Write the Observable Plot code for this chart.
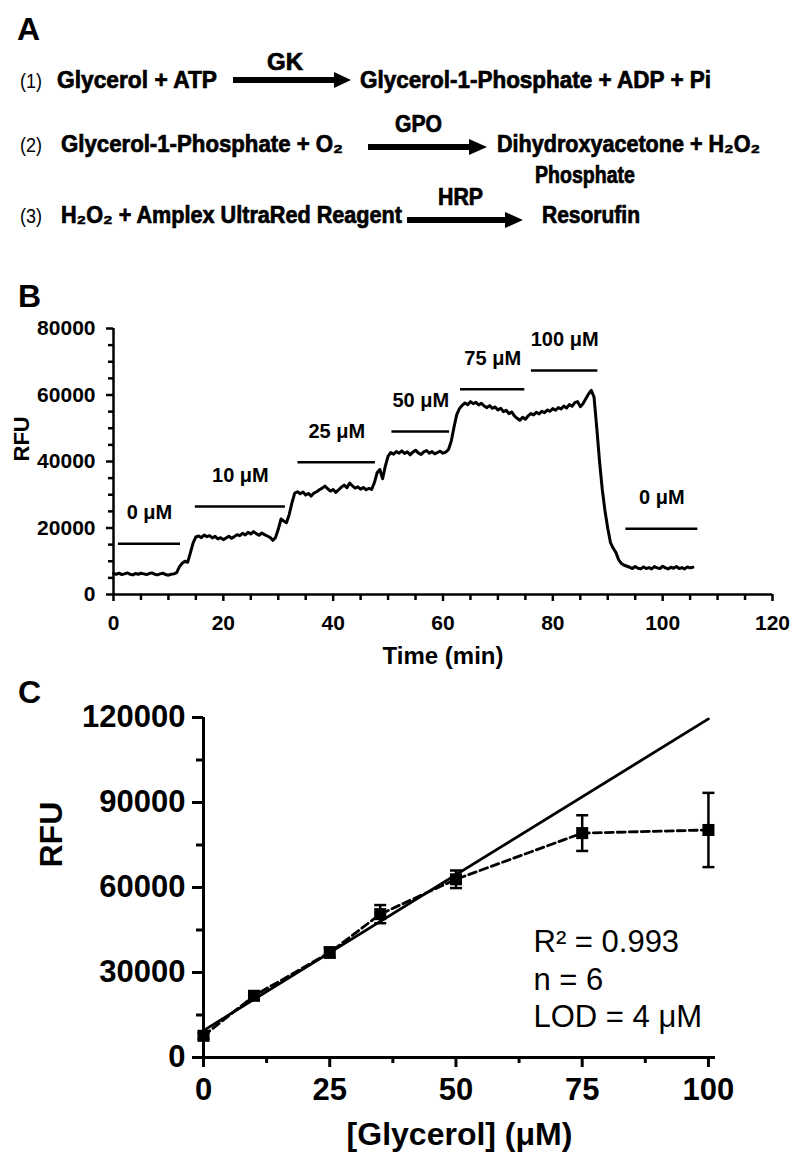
<!DOCTYPE html>
<html><head><meta charset="utf-8">
<script src="https://cdn.jsdelivr.net/npm/d3@7"></script>
<script src="https://cdn.jsdelivr.net/npm/@observablehq/plot@0.6"></script>
<style>
body{margin:0;background:#fff;}
#wrap{position:relative;width:800px;height:1172px;font-family:"Liberation Sans",Arial,sans-serif;}
#overlay{position:absolute;left:0;top:0;z-index:2;pointer-events:none;}
#plotB{position:absolute;left:0;top:300px;}
#plotC{position:absolute;left:0;top:690px;}
</style></head>
<body><div id="wrap">
<svg id="overlay" width="800" height="1172" font-family="Liberation Sans, Arial, sans-serif" font-weight="bold" font-size="23" fill="#000">
  <text x="17" y="40" font-size="32">A</text>
  <text x="18" y="307" font-size="32">B</text>
  <text x="18" y="703" font-size="32">C</text>
  <g font-weight="normal" font-size="20">
    <text x="20" y="88" textLength="22" lengthAdjust="spacingAndGlyphs">(1)</text>
    <text x="20" y="152" textLength="22" lengthAdjust="spacingAndGlyphs">(2)</text>
    <text x="20" y="223" textLength="22" lengthAdjust="spacingAndGlyphs">(3)</text>
  </g>
  <g stroke="#000" stroke-width="0.7">
    <!-- row 1 -->
    <text x="57" y="88" textLength="160" lengthAdjust="spacingAndGlyphs">Glycerol + ATP</text>
    <text x="267" y="70" textLength="36" lengthAdjust="spacingAndGlyphs">GK</text>
    <text x="360" y="88" textLength="351" lengthAdjust="spacingAndGlyphs">Glycerol-1-Phosphate + ADP + Pi</text>
    <!-- row 2 -->
    <text x="61" y="152" textLength="282" lengthAdjust="spacingAndGlyphs">Glycerol-1-Phosphate + O₂</text>
    <text x="395" y="132" textLength="47" lengthAdjust="spacingAndGlyphs">GPO</text>
    <text x="497" y="152" textLength="263" lengthAdjust="spacingAndGlyphs">Dihydroxyacetone + H₂O₂</text>
    <text x="535" y="183" textLength="100" lengthAdjust="spacingAndGlyphs">Phosphate</text>
    <!-- row 3 -->
    <text x="61" y="223" textLength="341" lengthAdjust="spacingAndGlyphs">H₂O₂ + Amplex UltraRed Reagent</text>
    <text x="438" y="205" textLength="45" lengthAdjust="spacingAndGlyphs">HRP</text>
    <text x="542" y="223" textLength="98" lengthAdjust="spacingAndGlyphs">Resorufin</text>
  </g>
  <line x1="233" y1="80" x2="336" y2="80" stroke="#000" stroke-width="6"/>
  <polygon points="334,72 351,80 334,88" fill="#000"/>
  <line x1="368" y1="147" x2="471" y2="147" stroke="#000" stroke-width="6"/>
  <polygon points="469,139 487,147 469,155" fill="#000"/>
  <line x1="407" y1="220" x2="507" y2="220" stroke="#000" stroke-width="6"/>
  <polygon points="505,212 523,220 505,228" fill="#000"/>
</svg>
<div id="plotB"></div>
<div id="plotC"></div>
</div>
<script>
// ---------- Panel B data ----------
const traceTime = [
0,0.5,1,1.5,2,2.5,3,3.5,4,4.5,5,5.5,6,6.5,7,7.5,8,8.5,9,9.5,
10,10.5,11,11.5,12,12.5,13,13.5,14,14.5,15,15.5,16,16.5,17,17.5,18,18.5,19,19.5,
20,20.5,21,21.5,22,22.5,23,23.5,24,24.5,25,25.5,26,26.5,27,27.5,28,28.5,29,29.5,
30,30.5,31,31.5,32,32.5,33,33.5,34,34.5,35,35.5,36,36.5,37,37.5,38,38.5,39,39.5,
40,40.5,41,41.5,42,42.5,43,43.5,44,44.5,45,45.5,46,46.5,47,47.5,48,48.5,49,49.5,
50,50.5,51,51.5,52,52.5,53,53.5,54,54.5,55,55.5,56,56.5,57,57.5,58,58.5,59,59.5,
60,60.5,61,61.5,62,62.5,63,63.5,64,64.5,65,65.5,66,66.5,67,67.5,68,68.5,69,69.5,
70,70.5,71,71.5,72,72.5,73,73.5,74,74.5,75,75.5,76,76.5,77,77.5,78,78.5,79,79.5,
80,80.5,81,81.5,82,82.5,83,83.5,84,84.5,85,85.5,86,86.5,87,87.5,88,88.5,89,89.5,
90,90.5,91,91.5,92,92.5,93,93.5,94,94.5,95,95.5,96,96.5,97,97.5,98,98.5,99,99.5,
100,100.5,101,101.5,102,102.5,103,103.5,104,104.5,105,105.5];
const traceRFU = [
6300,6100,6400,6000,6200,6500,6100,5900,6300,6100,6400,6200,6000,6300,6500,6100,5900,6200,6400,6000,
5800,6100,6200,6600,8300,9400,10000,9700,12500,15500,17300,17600,17100,17900,17400,17700,17000,17500,16700,17100,
16500,17000,17500,16900,17400,18000,17700,18400,17900,18700,18200,18900,18300,17800,18500,18000,17600,17200,16300,17100,
19600,22700,22100,21600,24100,27600,30500,30900,30300,30800,29900,30400,29600,30500,30900,31500,32000,32600,31800,31100,
31600,30700,31500,32300,32900,32100,33500,32700,32000,32400,31700,32200,31500,31900,31600,33600,36600,37600,34800,38600,
41600,42700,42200,43000,42500,43200,42400,42900,42000,42800,43400,42600,42100,42900,43300,42500,43000,42300,42700,43100,
42500,42800,43600,46100,50300,54100,55900,56900,57600,57100,58000,57400,57800,57000,57500,56700,56200,56800,56000,56400,
55500,56000,55000,55400,54400,54900,53700,53000,52400,53300,52700,53700,54400,54000,54800,54300,55100,54700,55500,55100,
55900,55400,56200,55800,56700,56100,57100,56600,57700,58000,56500,57400,58900,60300,61400,59400,50100,40100,31600,25100,
19900,15600,13900,12600,10400,9300,8800,8500,8200,7800,8400,7900,7700,8300,7800,8100,7700,8400,8000,7800,
8500,8000,7700,8200,7900,8400,7800,8100,7700,8300,8000,8200];

const concLabels = ["0 μM","10 μM","25 μM","50 μM","75 μM","100 μM","0 μM"];
const barStart = [0.9, 14.9, 33.6, 50.7, 63.2, 76.1, 93.3];
const barEnd   = [12.2, 31.3, 47.7, 61.2, 74.9, 88.2, 106.4];
const barLevel = [15250, 26470, 39800, 49000, 61700, 67370, 19760];

const yTicksB = [0, 20000, 40000, 60000, 80000];
const yMinorB = [5000,10000,15000,25000,30000,35000,45000,50000,55000,65000,70000,75000];
const xTicksB = [0, 20, 40, 60, 80, 100, 120];
const xMinorB = [5,10,15,25,30,35,45,50,55,65,70,75,85,90,95,105,110,115];

// ---------- Panel C data ----------
const conc    = [0, 10, 25, 35, 50, 75, 100];
const rfuMean = [7660, 21780, 37060, 50600, 62900, 79200, 80300];
const rfuErr  = [1000, 1200, 1800, 3200, 3100, 6300, 13100];
const fitConc = [0, 100];
const fitRFU  = [9500, 119500];
const yTicksC = [0, 30000, 60000, 90000, 120000];
const yMinorC = [15000, 45000, 75000, 105000];
const xTicksC = [0, 25, 50, 75, 100];
const xMinorC = [12.5, 37.5, 62.5, 87.5];
const statsText = ["R² = 0.993", "n = 6", "LOD = 4 μM"];

const FONT = "Liberation Sans, Arial, Helvetica, sans-serif";

// ---------- Panel B ----------
const trace = traceTime.map((t, i) => ({t, v: traceRFU[i]}));
const bars = concLabels.map((label, i) => ({label, t1: barStart[i], t2: barEnd[i], level: barLevel[i]}));

const plotB = Plot.plot({
  width: 800, height: 384,
  marginLeft: 113, marginRight: 28, marginTop: 28, marginBottom: 90,
  x: {domain: [0, 120]},
  y: {domain: [0, 80000]},
  style: {fontFamily: FONT, fontWeight: "bold", fontSize: "21px", color: "#000", background: "transparent", overflow: "visible"},
  marks: [
    Plot.axisY({ticks: yTicksB, tickSize: 7, tickPadding: 11, strokeWidth: 2.5, tickFormat: d => String(d), label: null, fontSize: 21, fontWeight: "bold"}),
    Plot.axisY({ticks: yMinorB, tickSize: 5, strokeWidth: 2.5, text: null, label: null}),
    Plot.axisX({ticks: xTicksB, tickSize: 7, tickPadding: 14, strokeWidth: 2.5, tickFormat: d => String(d), label: null, fontSize: 21, fontWeight: "bold"}),
    Plot.axisX({ticks: xMinorB, tickSize: 6, strokeWidth: 2.5, text: null, label: null}),
    Plot.ruleX([0], {strokeWidth: 2.5}),
    Plot.ruleY([0], {strokeWidth: 2.5}),
    Plot.line(trace, {x: "t", y: "v", stroke: "#000", strokeWidth: 3, strokeLinejoin: "round"}),
    Plot.ruleY(bars, {x1: "t1", x2: "t2", y: "level", stroke: "#000", strokeWidth: 2.5}),
    Plot.text(bars, {x: d => (d.t1 + d.t2) / 2, y: "level", text: "label", dy: -31, fontSize: 20, fontWeight: "bold", fill: "#000"}),
    Plot.text(["RFU"], {text: d => d, frameAnchor: "left", rotate: -90, dx: -92, fontSize: 22, fontWeight: "bold", fill: "#000"}),
    Plot.text(["Time (min)"], {text: d => d, frameAnchor: "bottom", dy: 69, fontSize: 24, fontWeight: "bold", fill: "#000"})
  ]
});
document.getElementById("plotB").appendChild(plotB);

// ---------- Panel C ----------
const pts = conc.map((c, i) => ({c, m: rfuMean[i], lo: rfuMean[i] - rfuErr[i], hi: rfuMean[i] + rfuErr[i]}));
const caps = pts.flatMap(d => [{c: d.c, y: d.lo}, {c: d.c, y: d.hi}]);
const fit = fitConc.map((c, i) => ({c, v: fitRFU[i]}));
const capSymbol = {draw(ctx, size) { const w = Math.sqrt(size / Math.PI); ctx.moveTo(-w, 0); ctx.lineTo(w, 0); }};

const plotC = Plot.plot({
  width: 800, height: 482,
  marginLeft: 203, marginRight: 85, marginTop: 27, marginBottom: 115,
  x: {domain: [0, 101.4]},
  y: {domain: [0, 120000]},
  style: {fontFamily: FONT, fontWeight: "bold", fontSize: "31px", color: "#000", background: "transparent", overflow: "visible"},
  marks: [
    Plot.axisY({ticks: yTicksC, tickSize: 11, tickPadding: 7, strokeWidth: 3, tickFormat: d => String(d), label: null, fontSize: 31, fontWeight: "bold"}),
    Plot.axisY({ticks: yMinorC, tickSize: 7, strokeWidth: 3, text: null, label: null}),
    Plot.axisX({ticks: xTicksC, tickSize: 10, tickPadding: 10, strokeWidth: 3, tickFormat: d => String(d), label: null, fontSize: 31, fontWeight: "bold"}),
    Plot.axisX({ticks: xMinorC, tickSize: 6, strokeWidth: 3, text: null, label: null}),
    Plot.ruleX([0], {strokeWidth: 3}),
    Plot.ruleY([0], {strokeWidth: 3}),
    Plot.line(fit, {x: "c", y: "v", stroke: "#000", strokeWidth: 2.8}),
    Plot.line(pts, {x: "c", y: "m", stroke: "#000", strokeWidth: 2.8, strokeDasharray: "8,4"}),
    Plot.ruleX(pts, {x: "c", y1: "lo", y2: "hi", stroke: "#000", strokeWidth: 2.5}),
    Plot.dot(caps, {x: "c", y: "y", symbol: capSymbol, r: 6, stroke: "#000", fill: "none", strokeWidth: 2.5}),
    Plot.dot(pts, {x: "c", y: "m", symbol: "square", r: 6.8, fill: "#000", stroke: "none"}),
    Plot.text([statsText.join("\n")], {text: d => d, frameAnchor: "top-left", dx: 330, dy: 208, textAnchor: "start", lineAnchor: "top", lineHeight: 1.21, fontSize: 31, fontWeight: "normal", fill: "#000"}),
    Plot.text(["RFU"], {text: d => d, frameAnchor: "left", rotate: -90, dx: -152, dy: -20, fontSize: 32, fontWeight: "bold", fill: "#000"}),
    Plot.text(["[Glycerol] (μM)"], {text: d => d, frameAnchor: "bottom", dy: 87, fontSize: 32, fontWeight: "bold", fill: "#000"})
  ]
});
document.getElementById("plotC").appendChild(plotC);
</script>
</body></html>
